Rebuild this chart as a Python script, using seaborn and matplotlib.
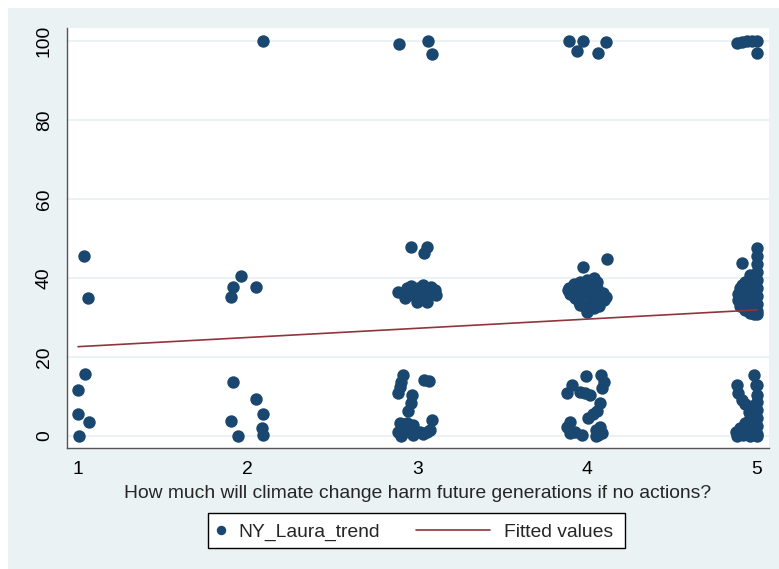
import numpy as np
import pandas as pd
import matplotlib
matplotlib.use("Agg")
import matplotlib.pyplot as plt
from matplotlib.patches import Rectangle
from matplotlib.lines import Line2D
import seaborn as sns

# ---------------- data ----------------
# jittered x (harm rating 1..5) and y (NY_Laura_trend), per rating level
x_lvl1 = [1.035, 1.059, 1.041, 1.000, 1.000, 1.067, 1.008]
y_lvl1 = [45.5, 35.0, 15.6, 11.7, 5.6, 3.6, 0.0]

x_lvl2 = [2.092, 1.958, 1.911, 2.047, 1.901, 1.915, 2.049, 1.901, 2.088, 2.082, 2.092, 1.941]
y_lvl2 = [100.0, 40.4, 37.8, 37.7, 35.2, 13.7, 9.3, 3.9, 5.6, 1.9, 0.3, 0.0]

x_lvl3 = [2.893, 3.060, 3.084,
          2.962, 3.054, 3.038, 2.887, 2.926, 2.962, 2.995, 3.005, 3.034, 3.054,
          3.103, 3.109, 3.025, 2.975, 3.064, 2.990, 2.940, 3.080,
          2.916, 2.901, 3.040, 3.065, 2.895, 2.887, 2.966, 2.960, 2.946, 2.897,
          3.084, 2.936, 2.975, 2.887, 2.926, 2.975, 3.015, 3.054, 3.074, 3.034,
          2.900, 2.950]
y_lvl3 = [99.1, 100.0, 96.7,
          47.9, 47.9, 46.2, 36.5, 34.8, 37.9, 34.0, 37.4, 38.2, 34.0,
          36.9, 35.7, 35.7, 35.7, 36.1, 37.0, 37.5, 37.8,
          15.4, 13.7, 14.2, 13.8, 12.3, 10.8, 10.4, 8.3, 6.2, 3.2,
          4.0, 3.2, 2.8, 1.1, 1.1, 0.25, 1.1, 1.1, 1.5, 0.6,
          0.1, 2.0]

x_lvl4 = [3.894, 3.973, 4.111, 3.938, 4.061,
          3.977, 4.114,
          4.040, 4.060, 4.030, 3.920, 3.960, 3.890, 3.900, 3.930, 3.950, 3.990,
          4.010, 4.050, 4.080, 4.100, 4.070, 4.040, 4.000, 3.980, 3.950, 3.910,
          3.970, 4.020, 4.060, 3.940, 4.000, 4.090, 3.990, 4.030, 3.885, 4.110,
          3.960, 4.015,
          3.993, 4.079, 4.099, 4.085, 3.908, 3.879, 3.957, 4.016, 4.075, 4.056,
          4.006, 3.898, 3.879, 4.075, 4.050, 3.898, 3.967, 4.085, 4.050, 3.930,
          4.035, 3.985, 4.065]
y_lvl4 = [100.0, 100.0, 99.7, 97.3, 96.8,
          42.7, 44.9,
          40.0, 39.0, 38.5, 38.5, 39.0, 37.5, 36.0, 35.0, 37.0, 38.0,
          36.5, 36.0, 35.5, 34.5, 33.0, 32.5, 31.4, 33.0, 34.0, 36.8,
          35.8, 34.5, 37.5, 38.2, 39.5, 36.2, 32.3, 33.8, 37.0, 35.2,
          33.2, 37.2,
          15.3, 15.4, 13.7, 12.1, 12.9, 10.8, 11.2, 10.4, 8.3, 6.2,
          4.5, 3.6, 2.4, 2.4, 1.5, 0.7, 0.25, 0.7, 0.0, 1.1,
          5.5, 10.9, 0.3]

x_lvl5 = [4.880, 4.910, 4.940, 4.970, 5.000, 5.000,
          5.000, 5.000, 5.000, 5.000, 5.000, 5.000, 5.000, 5.000, 5.000, 5.000,
          4.913,
          4.960, 4.980, 4.930, 4.900, 4.886, 4.886, 4.900, 4.930, 4.960, 4.980,
          4.920, 4.950, 4.970, 4.940, 4.990, 4.910, 4.960, 4.985, 4.930, 4.970,
          5.000, 5.000, 5.000, 5.000, 5.000, 5.000, 5.000, 5.000,
          4.980, 4.995, 4.880, 4.890, 4.910, 4.930, 4.950, 4.960, 4.930, 4.900,
          4.875, 4.880, 4.920, 4.960, 4.990, 4.970, 4.945, 4.985, 4.970]
y_lvl5 = [99.5, 99.7, 100.0, 100.0, 100.0, 96.8,
          47.5, 45.5, 43.5, 41.5, 39.5, 37.5, 35.5, 33.5, 31.5, 30.8,
          43.7,
          40.7, 39.8, 39.0, 37.5, 36.0, 34.5, 33.0, 32.0, 31.2, 30.8,
          35.0, 36.5, 38.0, 34.0, 35.5, 38.2, 33.5, 32.5, 37.0, 35.0,
          12.9, 10.5, 8.5, 6.5, 4.5, 2.5, 0.5, 0.0,
          15.4, 12.9, 12.9, 10.8, 9.0, 8.0, 6.0, 4.5, 3.3, 2.0,
          1.0, 0.0, 0.3, 0.0, 1.0, 2.5, 1.5, 5.5, 7.5]

# fitted regression line endpoints
fit_x = [1.0, 5.0]
fit_y = [22.6, 31.9]

x_ticks = [1, 2, 3, 4, 5]
y_ticks = [0, 20, 40, 60, 80, 100]
x_title = "How much will climate change harm future generations if no actions?"
series_label = "NY_Laura_trend"
fit_label = "Fitted values"

# ---------------- styling ----------------
NAVY = "#1a476f"
MAROON = "#90353b"
BG = "#eaf2f3"
AXC = "#555555"
FS = 13.9

sns.set_style("white")
plt.rcParams["font.family"] = ["Liberation Sans", "DejaVu Sans"]

W, H = 779, 569
fig = plt.figure(figsize=(W / 100, H / 100), dpi=100)
fig.patch.set_facecolor("white")
fig.add_artist(Rectangle((8 / W, 0), 1, (H - 8) / H, transform=fig.transFigure,
                         facecolor=BG, edgecolor="none", zorder=-10))

L, R, T, B = 66.7, 769.0, 28.3, 448.3
ax = fig.add_axes([L / W, (H - B) / H, (R - L) / W, (B - T) / H])
ax.set_facecolor("white")

df = pd.DataFrame({
    "harm": x_lvl1 + x_lvl2 + x_lvl3 + x_lvl4 + x_lvl5,
    "trend": y_lvl1 + y_lvl2 + y_lvl3 + y_lvl4 + y_lvl5,
})
sns.scatterplot(data=df, x="harm", y="trend", ax=ax, s=80, color=NAVY,
                linewidth=0, legend=False, zorder=3)
sns.lineplot(x=fit_x, y=fit_y, ax=ax, color=MAROON, lw=1.2, zorder=4)

ax.set_xlim(0.9334, 5.0707)
ax.set_ylim(-3.11, 103.14)
ax.set_xticks(x_ticks)
ax.set_yticks(y_ticks)
ax.set_xticklabels([str(t) for t in x_ticks])
ax.set_yticklabels([str(t) for t in y_ticks], rotation=90, va="center")
ax.yaxis.grid(True, color=BG, lw=1.4, zorder=0)
ax.xaxis.grid(False)
ax.set_axisbelow(True)

for s in ["top", "right"]:
    ax.spines[s].set_visible(False)
for s in ["left", "bottom"]:
    ax.spines[s].set_color(AXC)
    ax.spines[s].set_linewidth(1.0)
ax.tick_params(axis="both", direction="out", length=6, width=1, color=AXC,
               labelsize=FS, labelcolor="black")
ax.tick_params(axis="y", pad=4)
ax.tick_params(axis="x", pad=3)
ax.set_xlabel(x_title, fontsize=FS, labelpad=5)
ax.set_ylabel("")

# ---------------- legend (boxed, two entries) ----------------
lx0, lx1, ly0, ly1 = 207.6, 625.0, 513.0, 548.0
fig.add_artist(Rectangle((lx0 / W, (H - ly1) / H), (lx1 - lx0) / W, (ly1 - ly0) / H,
                         transform=fig.transFigure, facecolor="white",
                         edgecolor="black", lw=1.0, zorder=5))
ycen = (H - (ly0 + ly1) / 2 - 1.5) / H
h1 = Line2D([], [], marker="o", ls="", color=NAVY, markersize=6.8, markeredgewidth=0)
h2 = Line2D([], [], color=MAROON, lw=1.2)
leg1 = fig.legend([h1], [series_label], loc="center left", bbox_to_anchor=(212 / W, ycen),
                  frameon=False, fontsize=FS, handlelength=0.9, handletextpad=0.45,
                  borderpad=0, borderaxespad=0)
leg2 = fig.legend([h2], [fit_label], loc="center left", bbox_to_anchor=(416 / W, ycen),
                  frameon=False, fontsize=FS, handlelength=3.85, handletextpad=0.7,
                  borderpad=0, borderaxespad=0)
leg1.set_zorder(6)
leg2.set_zorder(6)

fig.savefig("out.png", dpi=100, facecolor=fig.get_facecolor())
